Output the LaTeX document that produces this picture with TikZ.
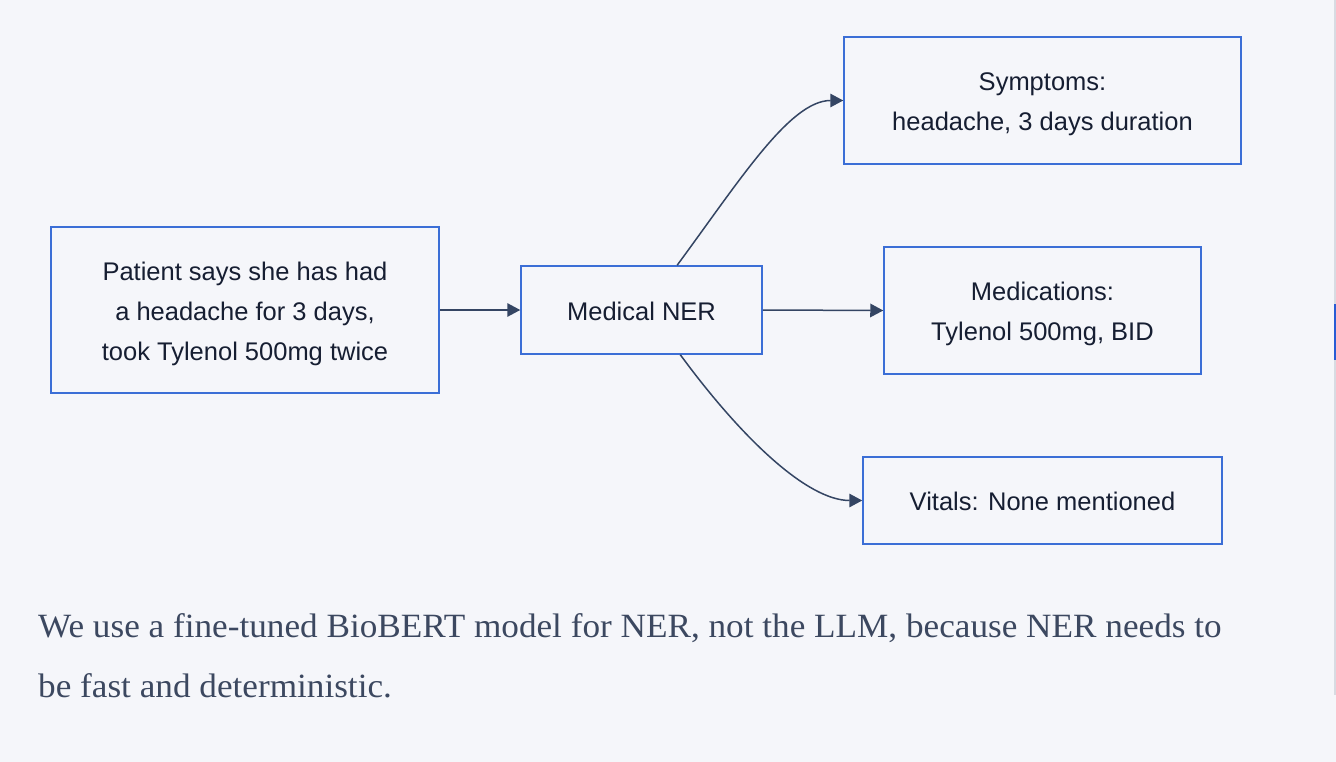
\documentclass[tikz,border=0pt]{standalone}
\usepackage{fontspec}
\setmainfont{Liberation Serif}[FakeStretch=1.035]
\setsansfont{Liberation Sans}
\usetikzlibrary{arrows.meta,calc}
\definecolor{bg}{RGB}{245,246,250}
\definecolor{boxblue}{RGB}{59,110,214}
\definecolor{arrowc}{RGB}{52,69,99}
\definecolor{ink}{RGB}{22,30,50}
\definecolor{para}{RGB}{60,72,96}
\definecolor{scrollgray}{RGB}{216,219,226}
\definecolor{scrollblue}{RGB}{40,92,212}
\begin{document}
\begin{tikzpicture}[x=1pt,y=-1pt,
  box/.style={draw=boxblue, line width=1.5pt, fill=bg, inner sep=0pt},
  boxtext/.style={inner sep=0pt, align=center, text=ink,
    font=\sffamily\fontsize{25.5}{40}\selectfont},
  conn/.style={draw=arrowc, line width=1.5pt, -{Triangle[length=13pt,width=13.5pt]}},
  ptext/.style={anchor=base west, inner sep=0pt, text=para, font=\rmfamily\fontsize{34}{40}\selectfont}]
\fill[bg] (0,0) rectangle (1336,762);
\useasboundingbox (0,0) rectangle (1336,762);
\fill[scrollgray] (1334,0) rectangle (1336,695);
\fill[scrollblue] (1334,304) rectangle (1336,360);

\node[box, minimum width=388pt, minimum height=166pt] (input) at (245,310) {};
\node[box, minimum width=241pt, minimum height=88pt] (ner) at (641.5,310) {};
\node[box, minimum width=397pt, minimum height=127pt] (sym) at (1042.5,100.5) {};
\node[box, minimum width=317pt, minimum height=127pt] (meds) at (1042.5,310.5) {};
\node[box, minimum width=359pt, minimum height=87pt] (vit) at (1042.5,500.5) {};

\node[boxtext] (inputtxt) at ($(input.center)+(0,4)$)
  {Patient says she has had\\a headache for 3 days,\\took Tylenol 500mg twice};
\node[boxtext] (nertxt) at ($(ner.center)+(0,1.5)$) {Medical NER};
\node[boxtext] (symtxt) at ($(sym.center)+(0,3.5)$) {Symptoms:\\headache, 3 days duration};
\node[boxtext] (medstxt) at ($(meds.center)+(0,3.5)$) {Medications:\\Tylenol 500mg, BID};
\node[boxtext] (vittxt) at ($(vit.center)+(0,1)$) {Vitals: None mentioned};

\draw[conn] (input.east) -- (ner.west);
\draw[conn] (ner.east) -- (meds.west);
\draw[conn] ($(ner.north west)!0.647!(ner.north east)$) .. controls (740,180) and (790,100.5) .. (sym.west);
\draw[conn] ($(ner.south west)!0.66!(ner.south east)$) .. controls (743,440) and (808,500.5) .. (vit.west);

\node[ptext] (p1) at (38,637) {We use a fine-tuned BioBERT model for NER, not the LLM, because NER needs to};
\node[ptext] (p2) at (38,697) {be fast and deterministic.};
\end{tikzpicture}
\end{document}
